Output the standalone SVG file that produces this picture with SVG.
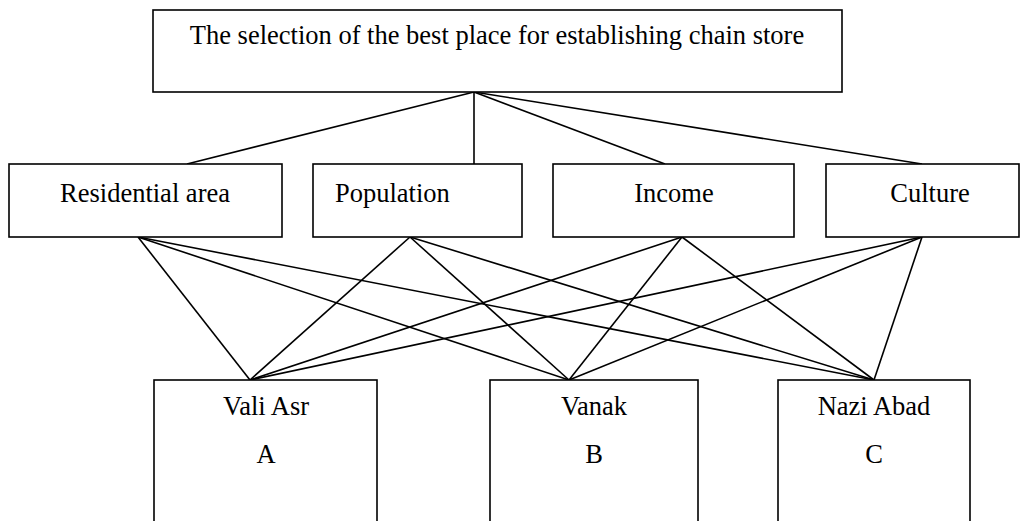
<svg xmlns="http://www.w3.org/2000/svg" width="1021" height="521" viewBox="0 0 1021 521">
<style>
rect{fill:#fff;stroke:#000;stroke-width:1.6}
line{stroke:#000;stroke-width:1.6}
text{font-family:"Liberation Serif","Times New Roman",serif;font-size:26.5px;fill:#000}
.c{text-anchor:middle}
</style>
<rect x="0" y="0" width="1021" height="521" style="stroke:none"/>
<g id="connectors">
<line x1="474" y1="92" x2="187" y2="164"/>
<line x1="474" y1="92" x2="474" y2="164"/>
<line x1="474" y1="92" x2="665" y2="164"/>
<line x1="474" y1="92" x2="922" y2="164"/>
<line x1="138" y1="237" x2="250" y2="380"/>
<line x1="138" y1="237" x2="569" y2="380"/>
<line x1="138" y1="237" x2="874" y2="380"/>
<line x1="410" y1="237" x2="250" y2="380"/>
<line x1="410" y1="237" x2="569" y2="380"/>
<line x1="410" y1="237" x2="874" y2="380"/>
<line x1="682" y1="237" x2="250" y2="380"/>
<line x1="682" y1="237" x2="569" y2="380"/>
<line x1="682" y1="237" x2="874" y2="380"/>
<line x1="922" y1="237" x2="250" y2="380"/>
<line x1="922" y1="237" x2="569" y2="380"/>
<line x1="922" y1="237" x2="874" y2="380"/>
</g>
<g id="goal">
<rect x="153" y="10" width="689" height="82"/>
<text class="c" x="497" y="44">The selection of the best place for establishing chain store</text>
</g>
<g id="residential">
<rect x="9" y="164" width="273" height="73"/>
<text class="c" x="145" y="202">Residential area</text>
</g>
<g id="population">
<rect x="313" y="164" width="209" height="73"/>
<text x="335" y="202">Population</text>
</g>
<g id="income">
<rect x="553" y="164" width="241" height="73"/>
<text class="c" x="674" y="202">Income</text>
</g>
<g id="culture">
<rect x="826" y="164" width="193" height="73"/>
<text class="c" x="930" y="202">Culture</text>
</g>
<g id="valiasr">
<rect x="154" y="380" width="223" height="160"/>
<text class="c" x="266" y="415">Vali Asr</text>
<text class="c" x="266" y="463">A</text>
</g>
<g id="vanak">
<rect x="490" y="380" width="208" height="160"/>
<text class="c" x="594" y="415">Vanak</text>
<text class="c" x="594" y="463">B</text>
</g>
<g id="naziabad">
<rect x="778" y="380" width="192" height="160"/>
<text class="c" x="874" y="415">Nazi Abad</text>
<text class="c" x="874" y="463">C</text>
</g>
</svg>
